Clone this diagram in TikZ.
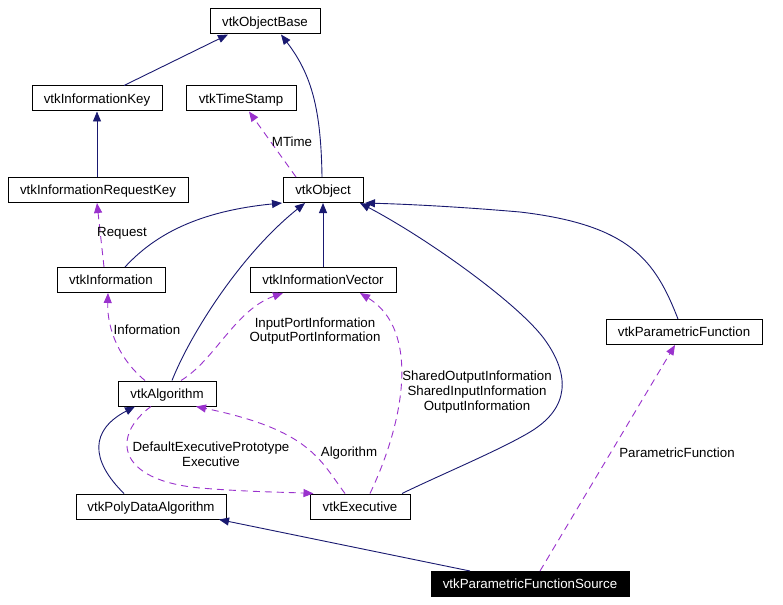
\documentclass[tikz,border=0pt]{standalone}
\usepackage{fontspec}
\setmainfont{Liberation Sans}
\usetikzlibrary{arrows.meta,calc}
\definecolor{navyc}{HTML}{191970}
\definecolor{purc}{HTML}{9A32CD}
\begin{document}
\begin{tikzpicture}[x=1pt,y=-1pt,
  cls/.style={draw=black, fill=white, line width=1pt, minimum height=25pt, inner sep=0pt, text height=9.6pt, text depth=0pt, font=\fontsize{13.3}{15}\selectfont},
  lbl/.style={inner sep=0pt, align=center, font=\fontsize{13.3}{14.7}\selectfont},
  inh/.style={draw=navyc, line width=0.9pt, -{Triangle[length=10pt,width=8pt,fill=navyc]}},
  use/.style={draw=purc, line width=0.9pt, dash pattern=on 7pt off 5pt, -{Triangle[length=10pt,width=8pt,fill=purc]}},
]
\fill[white] (0,0) rectangle (783,604);
\useasboundingbox (0,0) rectangle (783,604);

% classes
\node[cls, minimum width=110pt] (objbase) at (265,21.5) {vtkObjectBase};
\node[cls, minimum width=130pt] (infokey) at (97,98.5) {vtkInformationKey};
\node[cls, minimum width=110pt] (timestamp) at (241,98.5) {vtkTimeStamp};
\node[cls, minimum width=180pt] (reqkey) at (98,190) {vtkInformationRequestKey};
\node[cls, minimum width=80pt] (obj) at (323,190) {vtkObject};
\node[cls, minimum width=108pt] (info) at (111,280) {vtkInformation};
\node[cls, minimum width=146pt] (infovec) at (323,280) {vtkInformationVector};
\node[cls, minimum width=156pt] (pf) at (684,332) {vtkParametricFunction};
\node[cls, minimum width=98pt] (alg) at (167,393.5) {vtkAlgorithm};
\node[cls, minimum width=150pt] (pda) at (151,506.5) {vtkPolyDataAlgorithm};
\node[cls, minimum width=100pt] (exec) at (360,506.5) {vtkExecutive};
\node[cls, minimum width=198pt, fill=black, text=white] (pfs) at (530,584) {vtkParametricFunctionSource};

% inheritance
\draw[inh] ([xshift=27pt]infokey.north) -- ([xshift=-37pt]objbase.south);
\draw[inh] ([xshift=-1pt]obj.north) .. controls (321,110) and (312,75) .. ([xshift=16pt]objbase.south);
\draw[inh] ([xshift=-1pt]reqkey.north) -- (infokey.south);
\draw[inh] ([xshift=14pt]info.north) .. controls (150,240) and (190,212) .. ([xshift=-41pt]obj.south);
\draw[inh] (infovec.north) -- (obj.south);
\draw[inh] ([xshift=5pt]alg.north) .. controls (190,335) and (240,255) .. ([xshift=-18pt]obj.south);
\draw[inh] ([xshift=42pt]exec.north) .. controls (440,475) and (500,450) .. (530,432)
   .. controls (570,408) and (570,375) .. (545,340)
   .. controls (520,305) and (430,240) .. ([xshift=37pt]obj.south);
\draw[inh] ([xshift=-6pt]pf.north) .. controls (655,260) and (630,225) .. (520,212)
   .. controls (450,206) and (400,204) .. ([xshift=42pt]obj.south);
\draw[inh] ([xshift=-27pt]pda.north) .. controls (90,460) and (90,430) .. ([xshift=-32pt]alg.south);
\draw[inh] ([xshift=-60pt]pfs.north) -- ([xshift=68pt]pda.south);

% usage
\draw[use] ([xshift=-27pt]obj.north) -- ([xshift=8pt]timestamp.south);
\draw[use] ([xshift=-7pt]info.north) -- ([xshift=-1pt]reqkey.south);
\draw[use] ([xshift=-22pt]alg.north) .. controls (120,360) and (107,330) .. ([xshift=-3pt]info.south);
\draw[use] ([xshift=14pt]alg.north) .. controls (215,360) and (235,310) .. ([xshift=-40pt]infovec.south);
\draw[use] ([xshift=10pt]exec.north) .. controls (405,420) and (420,330) .. ([xshift=37pt]infovec.south);
\draw[use] ([xshift=-16pt]alg.south) .. controls (112,435) and (115,480) .. (200,488)
   .. controls (250,492) and (280,492) .. ([xshift=4pt]exec.north west);
\draw[use] ([xshift=-15pt]exec.north) .. controls (320,460) and (310,430) .. ([xshift=29pt]alg.south);
\draw[use] ([xshift=10pt]pfs.north) -- ([xshift=-9pt]pf.south);

% labels
\node[lbl] (lmtime) at (292,142) {MTime};
\node[lbl] (lreq) at (122,233) {Request};
\node[lbl] (linfo) at (147,330) {Information};
\node[lbl] (lport) at (315,331) {InputPortInformation\\OutputPortInformation};
\node[lbl] (lshared) at (477,392) {SharedOutputInformation\\SharedInputInformation\\OutputInformation};
\node[lbl] (ldef) at (211,454) {DefaultExecutivePrototype\\Executive};
\node[lbl] (lalg) at (349,453) {Algorithm};
\node[lbl] (lpf) at (677,453) {ParametricFunction};
\end{tikzpicture}
\end{document}
